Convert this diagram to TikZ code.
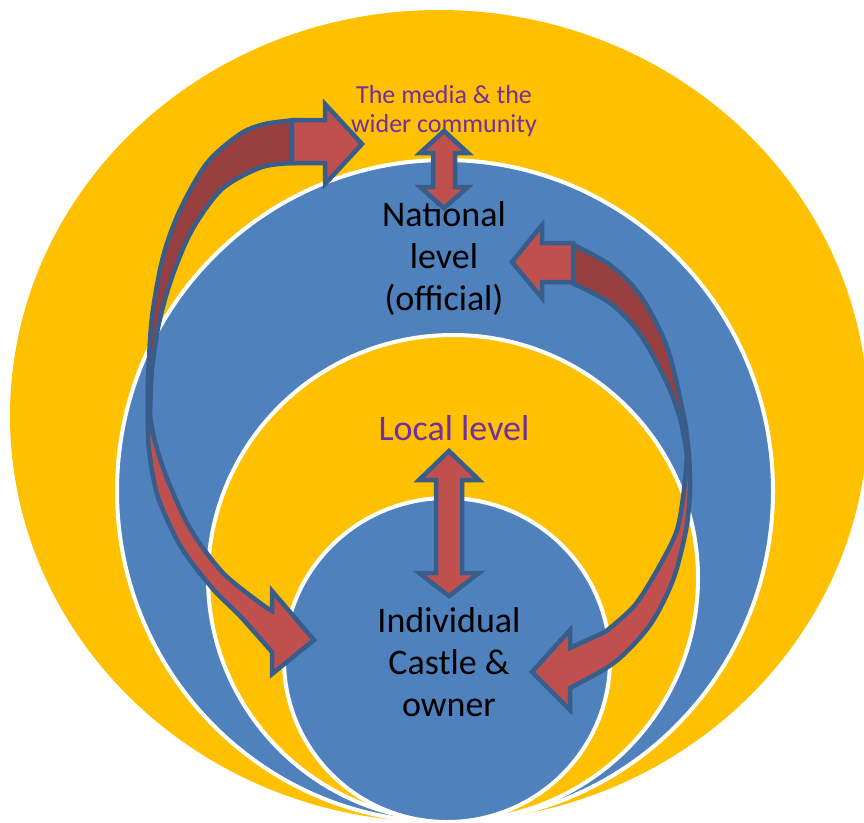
\documentclass[tikz,border=0pt]{standalone}
\usepackage{fontspec}
\setmainfont{Carlito}
\definecolor{ringyellow}{HTML}{FFC000}
\definecolor{ringblue}{HTML}{4F81BD}
\definecolor{arrowred}{HTML}{C0504D}
\definecolor{arrowback}{HTML}{963F3E}
\definecolor{arrowline}{HTML}{385D8A}
\definecolor{labelpurple}{HTML}{7030A0}
\begin{document}
\begin{tikzpicture}[
  x=1pt, y=-1pt,
  ring/.style={draw=white, line width=4pt},
  front/.style={fill=arrowred, draw=arrowline, line width=4.5pt, line join=miter},
  back/.style={fill=arrowback, draw=arrowline, line width=4.5pt, line join=round},
  big/.style={font=\fontsize{36}{42}\selectfont, align=center, inner sep=0pt},
  small/.style={font=\fontsize{26}{29}\selectfont, align=center, inner sep=0pt, text=labelpurple}
]
\useasboundingbox (0,0) rectangle (864,822);
\clip (0,0) rectangle (864,822);

% nested rings, all resting on the bottom
\fill[ringyellow] (439,416) ellipse [x radius=429pt, y radius=406pt];
\filldraw[ring, fill=ringblue] (445,491) ellipse [x radius=328pt, y radius=331pt];
\filldraw[ring, fill=ringyellow] (453,578) ellipse [x radius=245pt, y radius=243pt];
\filldraw[ring, fill=ringblue] (447,660) ellipse [x radius=163pt, y radius=162pt];

% labels
\node[small] (media) at (444,111) {The media \& the\\wider community};
\node[big] (national) at (444,258) {National\\level\\(official)};
\node[big, text=labelpurple] (local) at (454,428) {Local level};
\node[big] (castle) at (449,662) {Individual\\Castle \&\\owner};

% double arrows
\filldraw[front] (444,131) -- (468,153) -- (455,153) -- (455,187) -- (468,187)
  -- (444,208) -- (420,187) -- (433,187) -- (433,153) -- (420,153) -- cycle;
\filldraw[front] (449,451) -- (479,480) -- (462,480) -- (462,573) -- (479,573)
  -- (449,596) -- (419,573) -- (436,573) -- (436,480) -- (419,480) -- cycle;

% left curved arrow
\filldraw[back] plot[smooth] coordinates {(296,120) (265,124) (240,134) (207,163)
  (180,210) (163,257) (152,317) (148,380) (148,415)}
  -- plot[smooth] coordinates {(150,415) (152,370) (159,323) (172,277) (192,230)
  (222,189) (262,167) (296,163)} -- cycle;
\filldraw[front] (292,120) -- (325,120) -- (325,104) -- (362,144) -- (325,184)
  -- (325,163) -- (292,163) -- cycle;
\filldraw[front] plot[smooth] coordinates {(148,415) (149,450) (158,497) (181,547)
  (213,589) (240,616) (272,652)}
  -- (272,674) -- (314,640) -- (272,591) -- (272,611)
  -- plot[smooth] coordinates {(267,608) (224,574) (191,530) (168,481) (155,442)
  (150,415)} -- cycle;

% right curved arrow
\filldraw[back] plot[smooth] coordinates {(570,243) (610,265) (640,295) (667,347)
  (684,417) (689,455)}
  -- plot[smooth] coordinates {(687,455) (680,418) (666,381) (640,334) (610,303)
  (570,282)} -- cycle;
\filldraw[front] (573,243) -- (542,243) -- (542,225) -- (512,262) -- (542,298)
  -- (542,282) -- (573,282) -- cycle;
\filldraw[front] plot[smooth] coordinates {(689,455) (690,490) (686,530) (673,580)
  (650,625) (615,662) (570,688)}
  -- (570,710) -- (532,672) -- (570,630) -- (570,648)
  -- plot[smooth] coordinates {(605,632) (635,605) (660,565) (677,530) (684,490)
  (687,455)} -- cycle;
\end{tikzpicture}
\end{document}
